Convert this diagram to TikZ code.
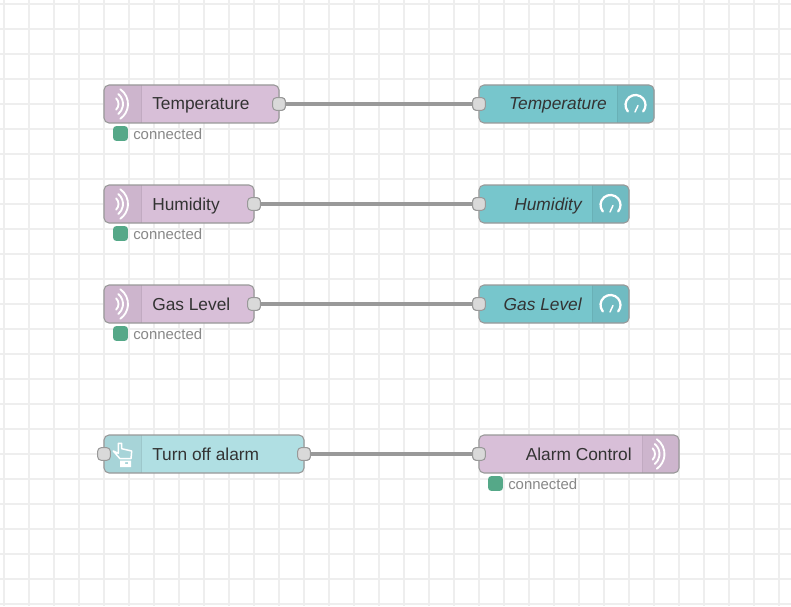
\documentclass[tikz,border=0pt]{standalone}
\usepackage{fontspec}
\setmainfont{Liberation Sans}
\definecolor{gridc}{HTML}{EEEEEE}
\definecolor{mqttc}{HTML}{D8BFD8}
\definecolor{mqtttab}{HTML}{CDB5CD}
\definecolor{dashc}{HTML}{77C6CC}
\definecolor{dashtab}{HTML}{70BBC2}
\definecolor{injc}{HTML}{B0DFE3}
\definecolor{injtab}{HTML}{A7D4D8}
\definecolor{edgec}{HTML}{999999}
\definecolor{portc}{HTML}{D9D9D9}
\definecolor{okc}{HTML}{55A888}
\definecolor{stattext}{HTML}{888888}
\definecolor{labelc}{HTML}{333333}
\tikzset{
  x=0.75pt,y=-0.75pt,
  flowbox/.style={rounded corners=3.75pt,minimum height=28.5pt,inner sep=0pt,anchor=west},
  portbox/.style={draw=edgec,fill=portc,line width=0.75pt,rounded corners=2.5pt,minimum width=9.4pt,minimum height=9.4pt,inner sep=0pt},
  wire/.style={draw=edgec,line width=2.3pt},
  flowlabel/.style={text=labelc,font=\fontsize{13}{15}\selectfont,inner sep=0pt},
  italiclabel/.style={flowlabel,font=\fontsize{13}{15}\selectfont\itshape},
  okbox/.style={fill=okc,rounded corners=2.2pt,minimum width=11pt,minimum height=11pt,inner sep=0pt},
  stat/.style={text=stattext,font=\fontsize{11.2}{13}\selectfont,inner sep=0pt,anchor=base west},
  iconline/.style={draw=white,line width=1.5pt,line cap=round,line join=round}
}
% name, x-left, x-right, y-centre, fill, tab fill, tab from, tab to
\newcommand{\flowshape}[8]{%
  \node[flowbox,fill=#5,minimum width={(#3-#2)*0.75pt}] (#1) at (#2,#4) {};
  \begin{scope}
    \clip[rounded corners=3.75pt] (#2,#4-19) rectangle (#3,#4+19);
    \fill[#6] (#7,#4-19) rectangle (#8,#4+19);
    \draw[#6!94!black,line width=0.6pt] (\ifnum#7=#2 #8\else #7\fi,#4-19) -- (\ifnum#7=#2 #8\else #7\fi,#4+19);
  \end{scope}
  \draw[edgec,line width=0.8pt,rounded corners=3.75pt] (#2,#4-19) rectangle (#3,#4+19);
}
% x = tip of the innermost arc, y = centre
\newcommand{\wifiicon}[2]{%
  \draw[iconline,line width=1.4pt] ({#1-8+8*cos(45)},{#2-8*sin(45)}) arc[start angle=45,end angle=-45,radius=6pt];
  \draw[iconline,line width=1.4pt] ({#1+4.5-13+13*cos(50)},{#2-13*sin(50)}) arc[start angle=50,end angle=-50,radius=9.75pt];
  \draw[iconline,line width=1.4pt] ({#1+9.5-18+18*cos(55)},{#2-18*sin(55)}) arc[start angle=55,end angle=-55,radius=13.5pt];
}
\newcommand{\gaugeicon}[2]{%
  \draw[iconline,line width=1.7pt] ({#1+10*cos(220)},{#2-10*sin(220)}) arc[start angle=220,end angle=-40,radius=7.5pt];
  \draw[iconline,line width=1.1pt] (#1-0.5,#2+7) -- (#1+2.5,#2+0.5);
}
\begin{document}
\begin{tikzpicture}
\useasboundingbox (0,0) rectangle (791,606);
\fill[white] (0,0) rectangle (791,606);
\foreach \k in {0,...,31} {\draw[gridc,line width=1.5pt] ({4+25*\k},0) -- ({4+25*\k},606);}
\foreach \k in {0,...,24} {\draw[gridc,line width=1.5pt] (0,{4+25*\k}) -- (791,{4+25*\k});}

% ports first so that wires run between their names
\node[portbox] (p1o) at (279,104) {};
\node[portbox] (p1i) at (479,104) {};
\node[portbox] (p2o) at (254,204) {};
\node[portbox] (p2i) at (479,204) {};
\node[portbox] (p3o) at (254,304) {};
\node[portbox] (p3i) at (479,304) {};
\node[portbox] (p4o) at (304,454) {};
\node[portbox] (p4i) at (479,454) {};
\draw[wire] (p1o) -- (p1i);
\draw[wire] (p2o) -- (p2i);
\draw[wire] (p3o) -- (p3i);
\draw[wire] (p4o) -- (p4i);

% bodies
\flowshape{n1}{104}{279}{104}{mqttc}{mqtttab}{104}{141}
\flowshape{n2}{104}{254}{204}{mqttc}{mqtttab}{104}{141}
\flowshape{n3}{104}{254}{304}{mqttc}{mqtttab}{104}{141}
\flowshape{n4}{104}{304}{454}{injc}{injtab}{104}{141}
\flowshape{d1}{479}{654}{104}{dashc}{dashtab}{617}{654}
\flowshape{d2}{479}{629}{204}{dashc}{dashtab}{592}{629}
\flowshape{d3}{479}{629}{304}{dashc}{dashtab}{592}{629}
\flowshape{d4}{479}{679}{454}{mqttc}{mqtttab}{642}{679}

% ports on top of the bodies
\node[portbox] at (p1o) {};
\node[portbox] at (p1i) {};
\node[portbox] at (p2o) {};
\node[portbox] at (p2i) {};
\node[portbox] at (p3o) {};
\node[portbox] at (p3i) {};
\node[portbox] at (p4o) {};
\node[portbox] at (p4i) {};
\node[portbox] (p4b) at (104,454) {};

% labels
\node[flowlabel,anchor=base west] (l1) at (152,110) {Temperature};
\node[flowlabel,anchor=base west] (l2) at (152,210) {Humidity};
\node[flowlabel,anchor=base west] (l3) at (152,310) {Gas Level};
\node[flowlabel,anchor=base west] (l4) at (152,460) {Turn off alarm};
\node[italiclabel,anchor=base east] (r1) at (607,110) {Temperature};
\node[italiclabel,anchor=base east] (r2) at (582,210) {Humidity};
\node[italiclabel,anchor=base east] (r3) at (582,310) {Gas Level};
\node[flowlabel,anchor=base east] (r4) at (632,460) {Alarm Control};

% status
\node[okbox] (s1) at (120.5,133.5) {};
\node[okbox] (s2) at (120.5,233.5) {};
\node[okbox] (s3) at (120.5,333.5) {};
\node[okbox] (s4) at (495.5,483.5) {};
\node[stat] (t1) at (133,139) {connected};
\node[stat] (t2) at (133,239) {connected};
\node[stat] (t3) at (133,339) {connected};
\node[stat] (t4) at (508,489) {connected};

% icons
\wifiicon{118.5}{104}
\wifiicon{118.5}{204}
\wifiicon{118.5}{304}
\wifiicon{655}{454}
\gaugeicon{635.5}{105}
\gaugeicon{610.5}{205}
\gaugeicon{610.5}{305}
\draw[iconline,line width=1.1pt] (118.3,443.3) -- (121.7,443.3) -- (121.7,448.7) -- (131.7,451) -- (131,458.7) -- (120,458.7) -- (113.3,451) -- (118.3,453.3) -- cycle;
\fill[white,even odd rule] (120,460.5) rectangle (131,467) (125,462) rectangle (128,464);
\end{tikzpicture}
\end{document}
